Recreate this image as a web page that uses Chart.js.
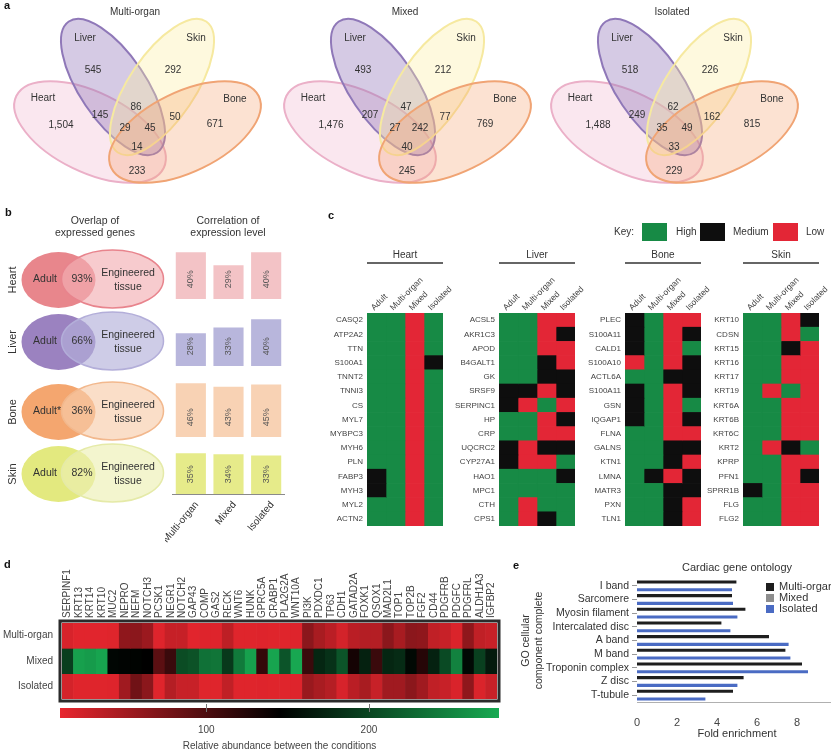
<!DOCTYPE html>
<html><head><meta charset="utf-8">
<script src="https://cdn.jsdelivr.net/npm/chart.js@4"></script>
<style>
html,body{margin:0;padding:0;background:#fff;overflow:hidden;width:831px;height:750px}
#wrap{position:relative;width:831px;height:750px;overflow:hidden}
canvas{position:absolute}
</style></head><body><div id="wrap"></div>
<script>
// ---------------- DATA ----------------
// a: Venn counts, region order: Liver, Skin, Heart, Bone, H∩L, L∩S, S∩B, H∩B, H∩L∩S, L∩S∩B, all four
const vennTitles = ['Multi-organ', 'Mixed', 'Isolated'];
const vennSets = ['Liver', 'Skin', 'Heart', 'Bone'];
const vennMultiOrgan = [545, 292, 1504, 671, 145, 86, 50, 233, 29, 45, 14];
const vennMixed = [493, 212, 1476, 769, 207, 47, 77, 245, 27, 242, 40];
const vennIsolated = [518, 226, 1488, 815, 249, 62, 162, 229, 35, 49, 33];

// b
const bOrgans = ['Heart', 'Liver', 'Bone', 'Skin'];
const bAdultLabels = ['Adult', 'Adult', 'Adult*', 'Adult'];
const bOverlapPct = [93, 66, 36, 82];
const bConditions = ['Multi-organ', 'Mixed', 'Isolated'];
const bCorrHeart = [40, 29, 40];
const bCorrLiver = [28, 33, 40];
const bCorrBone = [46, 43, 45];
const bCorrSkin = [35, 34, 33];

// c: H = High, M = Medium, L = Low ; columns Adult, Multi-organ, Mixed, Isolated
const cColumns = ['Adult', 'Multi-organ', 'Mixed', 'Isolated'];
const cHeartGenes = ['CASQ2','ATP2A2','TTN','S100A1','TNNT2','TNNI3','CS','MYL7','MYBPC3','MYH6','PLN','FABP3','MYH3','MYL2','ACTN2'];
const cHeartLevels = ['HHLH','HHLH','HHLH','HHLM','HHLH','HHLH','HHLH','HHLH','HHLH','HHLH','HHLH','MHLH','MHLH','HHLH','HHLH'];
const cLiverGenes = ['ACSL5','AKR1C3','APOD','B4GALT1','GK','SRSF9','SERPINC1','HP','CRP','UQCRC2','CYP27A1','HAO1','MPC1','CTH','CPS1'];
const cLiverLevels = ['HHLL','HHLM','HHLL','HHML','HHMM','MMLM','MLHL','HHLM','HHLL','MLMM','MLLH','HHHM','HHHH','HLHH','HLMH'];
const cBoneGenes = ['PLEC','S100A11','CALD1','S100A10','ACTL6A','S100A11','GSN','IQGAP1','FLNA','GALNS','KTN1','LMNA','MATR3','PXN','TLN1'];
const cBoneLevels = ['MHLL','MHLM','MHLH','LHLM','HHMM','MHLM','MHLH','MHLM','HHLL','HHMM','HHML','HMLM','HHMM','HHML','HHML'];
const cSkinGenes = ['KRT10','CDSN','KRT15','KRT16','KRT17','KRT19','KRT6A','KRT6B','KRT6C','KRT2','KPRP','PFN1','SPRR1B','FLG','FLG2'];
const cSkinLevels = ['HHLM','HHLH','HHML','HHLL','HHLL','HLHL','HHLL','HHLL','HHLL','HLMH','HHLL','HHLM','MHLL','HHLL','HHLL'];
const cKeyLabels = ['High', 'Medium', 'Low'];

// d
const dGenes = ['SERPINF1','KRT13','KRT14','KRT10','MUC2','NEPRO','NEFM','NOTCH3','PCSK1','NEGR1','NOTCH2','GAP43','COMP','GAS2','RECK','WNT6','HUNK','GPRC5A','CRABP1','PLA2G2A','WNT10A','PI3K','PDXDC1','TP63','CDH1','GATAD2A','FOXK1','QSOX1','MAD2L1','TOP1','TOP2B','FGF2','CD44','PDGFRB','PDGFC','PDGFRL','ALDH1A3','IGFBP2'];
const dConditions = ['Multi-organ', 'Mixed', 'Isolated'];
const dMultiOrgan = [20,14,14,14,15,62,64,55,16,30,30,14,16,16,35,15,15,16,15,15,16,64,47,37,22,37,40,40,64,47,64,62,33,29,18,62,33,29];
const dMixed = [194,272,268,275,150,148,147,145,92,111,205,210,235,238,190,242,272,115,275,212,278,111,175,184,212,133,171,111,175,179,152,123,171,204,248,152,196,166];
const dIsolated = [22,15,15,15,16,52,80,64,15,40,29,29,15,15,33,15,15,16,15,15,16,56,47,40,20,37,47,29,52,52,64,52,33,29,19,62,18,29];
const dColorbarRange = [10, 145, 280];   // low (red), middle (black), high (green)
const dColorbarTicks = [100, 200];

// e
const eTerms = ['I band','Sarcomere','Myosin filament','Intercalated disc','A band','M band','Troponin complex','Z disc','T-tubule'];
const eMultiOrgan = [4.97, 4.75, 5.42, 4.22, 6.6, 7.42, 8.25, 5.33, 4.8];
const eMixed = [null, null, null, null, null, null, null, null, null];
const eIsolated = [4.75, 4.8, 5.02, 4.67, 7.58, 7.67, 8.55, 5.02, 3.42];

// ---------------- HELPERS ----------------
const FAM = "'Liberation Sans', Arial, sans-serif";
const TXT = '#333';
const wrap = document.getElementById('wrap');
function mkCanvas(x, y, w, h) {
  const c = document.createElement('canvas');
  c.width = w; c.height = h;
  c.style.left = x + 'px'; c.style.top = y + 'px';
  c.style.width = w + 'px'; c.style.height = h + 'px';
  wrap.appendChild(c);
  return c;
}
function text(ctx, s, x, y, o = {}) {
  ctx.save();
  ctx.font = (o.bold ? 'bold ' : '') + (o.size || 10) + 'px ' + FAM;
  ctx.fillStyle = o.color || TXT;
  ctx.textAlign = o.align || 'center';
  ctx.textBaseline = o.baseline || 'middle';
  ctx.translate(x, y);
  if (o.rot) ctx.rotate(o.rot * Math.PI / 180);
  ctx.fillText(s, 0, 0);
  ctx.restore();
}
function baseOptions(extra) {
  return Object.assign({
    responsive: false, animation: false, events: [],
    plugins: { legend: { display: false }, tooltip: { enabled: false } }
  }, extra);
}
function pxScales(w, h) {
  return {
    x: { type: 'linear', min: 0, max: w, display: false },
    y: { type: 'linear', min: 0, max: h, reverse: true, display: false }
  };
}
function drawEllipse(chart, e) {
  const xs = chart.scales.x, ys = chart.scales.y, ctx = chart.ctx;
  const cx = xs.getPixelForValue(e.cx), cy = ys.getPixelForValue(e.cy);
  const rx = Math.abs(xs.getPixelForValue(e.cx + e.rx) - cx);
  const ry = Math.abs(ys.getPixelForValue(e.cy + e.ry) - cy);
  ctx.save();
  ctx.beginPath();
  ctx.ellipse(cx, cy, rx, ry, (e.rot || 0) * Math.PI / 180, 0, Math.PI * 2);
  ctx.fillStyle = e.fill; ctx.fill();
  if (e.stroke) { ctx.lineWidth = e.lw || 2; ctx.strokeStyle = e.stroke; ctx.stroke(); }
  ctx.restore();
}
function levelColor(l) { return l === 'H' ? '#178a45' : (l === 'M' ? '#0e0e0e' : '#e32636'); }
function heatColor(v) {
  const R = [232, 38, 46], G = [24, 170, 82];
  const [LO, MID, HI] = dColorbarRange;
  let c;
  if (v <= MID) { const t = Math.min(1, Math.max(0, (v - LO) / (MID - LO))); c = R.map(k => Math.round(k * (1 - t))); }
  else { const t = Math.min(1, (v - MID) / (HI - MID)); c = G.map(k => Math.round(k * t)); }
  return 'rgb(' + c.join(',') + ')';
}

// ---------------- PANEL a ----------------
const vennShapes = [
  { set: 'Heart', cx: 90, cy: 132, rx: 82, ry: 40, rot: 26, fill: 'rgba(238,170,196,0.28)', stroke: '#ebb0c8' },
  { set: 'Liver', cx: 113, cy: 87, rx: 79, ry: 33, rot: 56, fill: 'rgba(145,115,185,0.38)', stroke: '#8f78b8' },
  { set: 'Skin', cx: 162, cy: 87, rx: 79, ry: 33, rot: -56, fill: 'rgba(252,238,160,0.35)', stroke: '#f6e9a0' },
  { set: 'Bone', cx: 185, cy: 132, rx: 82, ry: 40, rot: -26, fill: 'rgba(245,160,105,0.30)', stroke: '#f0a474' }
];
const vennSetLabelPos = { Liver: [85, 38], Skin: [196, 38], Heart: [43, 98], Bone: [235, 99] };
const vennCountPos = [[93, 70], [173, 70], [61, 125], [215, 124], [100, 115], [136, 107], [175, 117], [137, 171], [125, 128], [150, 128], [137, 147]];
const vennOffsets = [0, 270, 537];
[vennMultiOrgan, vennMixed, vennIsolated].forEach((counts, p) => {
  const W = p === 2 ? 294 : 270, H = 190;
  const cv = mkCanvas(vennOffsets[p], 0, W, H);
  new Chart(cv, {
    type: 'scatter',
    data: { datasets: [{ data: vennCountPos.map(q => ({ x: q[0], y: q[1] })), pointRadius: 0 }] },
    options: baseOptions({ scales: pxScales(W, H), layout: { padding: 0 } }),
    plugins: [{
      id: 'venn',
      beforeDatasetsDraw(chart) { vennShapes.forEach(e => drawEllipse(chart, e)); },
      afterDatasetsDraw(chart) {
        const ctx = chart.ctx, xs = chart.scales.x, ys = chart.scales.y;
        text(ctx, vennTitles[p], xs.getPixelForValue(135), ys.getPixelForValue(12), { size: 10 });
        vennSets.forEach(s => text(ctx, s, xs.getPixelForValue(vennSetLabelPos[s][0]), ys.getPixelForValue(vennSetLabelPos[s][1]), { size: 10 }));
        chart.getDatasetMeta(0).data.forEach((el, i) => text(ctx, counts[i].toLocaleString('en-US'), el.x, el.y, { size: 10 }));
      }
    }]
  });
});

// ---------------- PANEL b (left: overlap) ----------------
const bRowY = [80, 142, 212, 274];
const bStyles = [
  { adult: '#e8868c', eng: 'rgba(242,175,180,0.65)', stroke: '#e8848d' },
  { adult: '#9b82c0', eng: 'rgba(180,176,218,0.65)', stroke: '#b3aed9' },
  { adult: '#f4a66f', eng: 'rgba(248,205,170,0.65)', stroke: '#f2b88d' },
  { adult: '#e3e97f', eng: 'rgba(236,240,180,0.65)', stroke: '#e5eaa8' }
];
(function () {
  const W = 170, H = 310;
  const cv = mkCanvas(0, 200, W, H);
  new Chart(cv, {
    type: 'scatter',
    data: { datasets: [{ data: bOverlapPct.map((v, i) => ({ x: 82, y: bRowY[i] })), pointRadius: 0 }] },
    options: baseOptions({ scales: pxScales(W, H) }),
    plugins: [{
      id: 'bvenn',
      beforeDatasetsDraw(chart) {
        bRowY.forEach((y, i) => {
          drawEllipse(chart, { cx: 58.5, cy: y, rx: 37, ry: 28, fill: bStyles[i].adult });
          drawEllipse(chart, { cx: 112.5, cy: y - 1, rx: 51, ry: 29, fill: bStyles[i].eng, stroke: bStyles[i].stroke, lw: 1.5 });
        });
      },
      afterDatasetsDraw(chart) {
        const ctx = chart.ctx, xs = chart.scales.x, ys = chart.scales.y;
        chart.getDatasetMeta(0).data.forEach((el, i) => {
          const y = ys.getPixelForValue(bRowY[i]);
          text(ctx, bOrgans[i], xs.getPixelForValue(13), y, { size: 11, rot: -90 });
          text(ctx, bAdultLabels[i], xs.getPixelForValue(i === 2 ? 47 : 45), y - 1, { size: 10.5 });
          text(ctx, bOverlapPct[i] + '%', el.x, el.y - 1, { size: 10.5 });
          text(ctx, 'Engineered', xs.getPixelForValue(128), y - 7, { size: 10.5 });
          text(ctx, 'tissue', xs.getPixelForValue(128), y + 7, { size: 10.5 });
        });
      }
    }]
  });
})();

// ---------------- PANEL b (right: correlation bars) ----------------
const bBarColors = ['#f3c3c6', '#b8b6dc', '#f8d2b4', '#e6eb8a'];
[bCorrHeart, bCorrLiver, bCorrBone, bCorrSkin].forEach((vals, i) => {
  const baseline = [299, 366, 437, 494][i];
  const last = i === 3;
  const H = last ? 130 : 70;
  const cv = mkCanvas(165, baseline - 70, 125, H);
  new Chart(cv, {
    type: 'bar',
    data: { labels: bConditions, datasets: [{ data: vals, backgroundColor: bBarColors[i], borderWidth: 0, barPercentage: 0.8, categoryPercentage: 1 }] },
    options: baseOptions({
      layout: { padding: { left: 7, right: 5, top: 0, bottom: last ? 60 : 0 } },
      scales: { x: { display: false }, y: { min: 0, max: 60, display: false } }
    }),
    plugins: [{
      id: 'bbars',
      afterDatasetsDraw(chart) {
        const ctx = chart.ctx, ys = chart.scales.y, a = chart.chartArea;
        const y0 = ys.getPixelForValue(0);
        ctx.save(); ctx.strokeStyle = '#8a8a8a'; ctx.lineWidth = 1;
        ctx.beginPath(); ctx.moveTo(a.left, y0 + 0.5); ctx.lineTo(a.right, y0 + 0.5); ctx.stroke(); ctx.restore();
        chart.getDatasetMeta(0).data.forEach((el, k) => {
          text(ctx, vals[k] + '%', el.x, ys.getPixelForValue(17), { size: 9, rot: -90, color: '#555' });
          if (last) text(ctx, bConditions[k], el.x + 6, y0 + 9, { size: 10, rot: -50, align: 'right' });
        });
      }
    }]
  });
});

// ---------------- PANEL c ----------------
const cBlocks = [
  { name: 'Heart', genes: cHeartGenes, levels: cHeartLevels, left: 367 },
  { name: 'Liver', genes: cLiverGenes, levels: cLiverLevels, left: 499 },
  { name: 'Bone', genes: cBoneGenes, levels: cBoneLevels, left: 625 },
  { name: 'Skin', genes: cSkinGenes, levels: cSkinLevels, left: 743 }
];
cBlocks.forEach(b => {
  const cv = mkCanvas(b.left - 70, 215, 185, 320);
  new Chart(cv, {
    type: 'bar',
    data: {
      labels: b.genes,
      datasets: cColumns.map((col, j) => ({
        label: col, data: b.genes.map(() => 1),
        backgroundColor: b.levels.map(s => levelColor(s[j])),
        borderWidth: 0, barPercentage: 1, categoryPercentage: 1
      }))
    },
    options: baseOptions({
      indexAxis: 'y',
      layout: { padding: { left: 70, right: 39, top: 98, bottom: 9 } },
      scales: { x: { stacked: true, min: 0, max: cColumns.length, display: false }, y: { stacked: true, display: false } }
    }),
    plugins: [{
      id: 'cheat',
      afterDatasetsDraw(chart) {
        const ctx = chart.ctx, xs = chart.scales.x, ys = chart.scales.y, a = chart.chartArea;
        b.genes.forEach((g, i) => text(ctx, g, a.left - 4, ys.getPixelForValue(i), { size: 8, align: 'right', color: '#444' }));
        cColumns.forEach((c, j) => text(ctx, c, xs.getPixelForValue(j + 0.5) - 4, a.top - 4, { size: 8.5, rot: -45, align: 'left', color: '#444' }));
        text(ctx, b.name, (a.left + a.right) / 2, a.top - 58, { size: 10 });
        ctx.save(); ctx.strokeStyle = '#333'; ctx.lineWidth = 1.5;
        ctx.beginPath(); ctx.moveTo(a.left, a.top - 50); ctx.lineTo(a.right, a.top - 50); ctx.stroke(); ctx.restore();
      }
    }]
  });
});

// ---------------- PANEL d ----------------
(function () {
  const cv = mkCanvas(0, 560, 510, 145);
  const rows = [dMultiOrgan, dMixed, dIsolated];
  new Chart(cv, {
    type: 'bar',
    data: {
      labels: dGenes,
      datasets: dConditions.map((c, i) => ({
        label: c, data: dGenes.map(() => 1),
        backgroundColor: rows[i].map(heatColor), borderWidth: 0, barPercentage: 1, categoryPercentage: 1
      }))
    },
    options: baseOptions({
      layout: { padding: { left: 62, right: 13, top: 63, bottom: 6 } },
      scales: { x: { stacked: true, display: false }, y: { stacked: true, min: 0, max: dConditions.length, reverse: true, display: false } }
    }),
    plugins: [{
      id: 'dheat',
      afterDatasetsDraw(chart) {
        const ctx = chart.ctx, xs = chart.scales.x, ys = chart.scales.y, a = chart.chartArea;
        ctx.save(); ctx.strokeStyle = '#2b2b2b'; ctx.lineWidth = 3;
        ctx.strokeRect(a.left - 2, a.top - 2, a.right - a.left + 4, a.bottom - a.top + 4); ctx.restore();
        dGenes.forEach((g, i) => text(ctx, g, xs.getPixelForValue(i), a.top - 5, { size: 10, rot: -90, align: 'left', color: '#444' }));
        dConditions.forEach((c, i) => text(ctx, c, a.left - 9, ys.getPixelForValue(i + 0.5), { size: 10, align: 'right', color: '#444' }));
      }
    }]
  });
  // colour bar
  const cb = mkCanvas(0, 700, 510, 50);
  new Chart(cb, {
    type: 'scatter',
    data: { datasets: [{ data: dColorbarTicks.map(v => ({ x: v, y: 0.5 })), pointRadius: 0 }] },
    options: baseOptions({
      layout: { padding: { left: 60, right: 11, top: 8, bottom: 32 } },
      scales: { x: { type: 'linear', min: dColorbarRange[0], max: dColorbarRange[2], display: false }, y: { min: 0, max: 1, display: false } }
    }),
    plugins: [{
      id: 'cbar',
      beforeDatasetsDraw(chart) {
        const ctx = chart.ctx, xs = chart.scales.x, a = chart.chartArea;
        const x0 = xs.getPixelForValue(dColorbarRange[0]), x1 = xs.getPixelForValue(dColorbarRange[2]);
        const xm = xs.getPixelForValue(dColorbarRange[1]);
        const g = ctx.createLinearGradient(x0, 0, x1, 0);
        g.addColorStop(0, heatColor(dColorbarRange[0]));
        g.addColorStop((xm - x0) / (x1 - x0), 'rgb(0,0,0)');
        g.addColorStop(1, heatColor(dColorbarRange[2]));
        ctx.save(); ctx.fillStyle = g; ctx.fillRect(a.left, a.top, a.right - a.left, a.bottom - a.top); ctx.restore();
      },
      afterDatasetsDraw(chart) {
        const ctx = chart.ctx, a = chart.chartArea;
        chart.getDatasetMeta(0).data.forEach((el, i) => {
          ctx.save(); ctx.strokeStyle = '#777'; ctx.lineWidth = 1;
          ctx.beginPath(); ctx.moveTo(Math.round(el.x) + 0.5, a.top - 4); ctx.lineTo(Math.round(el.x) + 0.5, a.top + 4); ctx.stroke(); ctx.restore();
          text(ctx, String(dColorbarTicks[i]), el.x, a.bottom + 12, { size: 10, color: '#444' });
        });
        text(ctx, 'Relative abundance between the conditions', (a.left + a.right) / 2, a.bottom + 28, { size: 10, color: '#444' });
      }
    }]
  });
})();

// ---------------- PANEL e ----------------
(function () {
  const cv = mkCanvas(520, 555, 330, 195);
  new Chart(cv, {
    type: 'bar',
    data: {
      labels: eTerms,
      datasets: [
        { label: 'Multi-organ', data: eMultiOrgan, backgroundColor: '#1e1e1e' },
        { label: 'Mixed', data: eMixed, backgroundColor: '#8e8e8e' },
        { label: 'Isolated', data: eIsolated, backgroundColor: '#4a6bc3' }
      ]
    },
    options: baseOptions({
      indexAxis: 'y',
      datasets: { bar: { barPercentage: 0.8, categoryPercentage: 0.85, borderWidth: 0 } },
      layout: { padding: { top: 24, right: 13, bottom: 9, left: 0 } },
      scales: {
        x: {
          min: 0, max: 10,
          ticks: { stepSize: 2, font: { size: 11, family: FAM }, color: '#444', padding: 6 },
          grid: { display: false },
          border: { color: '#b0b0b0' },
          title: { display: true, text: 'Fold enrichment', font: { size: 11, family: FAM }, color: '#333', padding: { top: 2, bottom: 0 } },
          afterFit(s) { s.height = 39; }
        },
        y: {
          ticks: { autoSkip: false, font: { size: 10.5, family: FAM }, color: '#333', padding: 3 },
          grid: { display: true, drawOnChartArea: false, offset: false, tickLength: 5, color: '#999' },
          border: { display: false },
          title: { display: true, text: ['GO cellular', 'component complete'], font: { size: 10.5, family: FAM }, color: '#333', padding: 0 },
          afterFit(s) { s.width = 117; }
        }
      }
    }),
    plugins: [{
      id: 'elegend',
      afterDraw(chart) {
        const ctx = chart.ctx, a = chart.chartArea;
        text(ctx, 'Cardiac gene ontology', (a.left + a.right) / 2, 13, { size: 11, color: '#333' });
        chart.data.datasets.forEach((d, i) => {
          const y = 32 + i * 11;
          ctx.save(); ctx.fillStyle = d.backgroundColor; ctx.fillRect(246, y - 4, 8, 8); ctx.restore();
          text(ctx, d.label, 259, y, { size: 11, align: 'left', color: '#333' });
        });
      }
    }]
  });
})();

// ---------------- OVERLAY (panel letters, headings, key) ----------------
(function () {
  const cv = mkCanvas(0, 0, 831, 750);
  new Chart(cv, {
    type: 'scatter',
    data: { datasets: [{ data: [], pointRadius: 0 }] },
    options: baseOptions({ scales: pxScales(831, 750) }),
    plugins: [{
      id: 'overlay',
      afterDatasetsDraw(chart) {
        const ctx = chart.ctx, xs = chart.scales.x, ys = chart.scales.y;
        const P = (x, y) => [xs.getPixelForValue(x), ys.getPixelForValue(y)];
        const L = (s, x, y, o) => { const p = P(x, y); text(ctx, s, p[0], p[1], o); };
        L('a', 4, 6, { bold: true, size: 11, align: 'left', color: '#111' });
        L('b', 5, 213, { bold: true, size: 11, align: 'left', color: '#111' });
        L('c', 328, 216, { bold: true, size: 11, align: 'left', color: '#111' });
        L('d', 4, 565, { bold: true, size: 11, align: 'left', color: '#111' });
        L('e', 513, 566, { bold: true, size: 11, align: 'left', color: '#111' });
        L('Overlap of', 95, 221, { size: 10.5 });
        L('expressed genes', 95, 233, { size: 10.5 });
        L('Correlation of', 228, 221, { size: 10.5 });
        L('expression level', 228, 233, { size: 10.5 });
        // key
        L('Key:', 614, 232, { size: 10, align: 'left' });
        const boxX = [642, 700, 773], txtX = [676, 733, 806], lv = ['H', 'M', 'L'];
        cKeyLabels.forEach((k, i) => {
          const p = P(boxX[i], 223);
          ctx.save(); ctx.fillStyle = levelColor(lv[i]); ctx.fillRect(p[0], p[1], 25, 18); ctx.restore();
          L(k, txtX[i], 232, { size: 10, align: 'left' });
        });
      }
    }]
  });
})();
</script>
</body></html>
